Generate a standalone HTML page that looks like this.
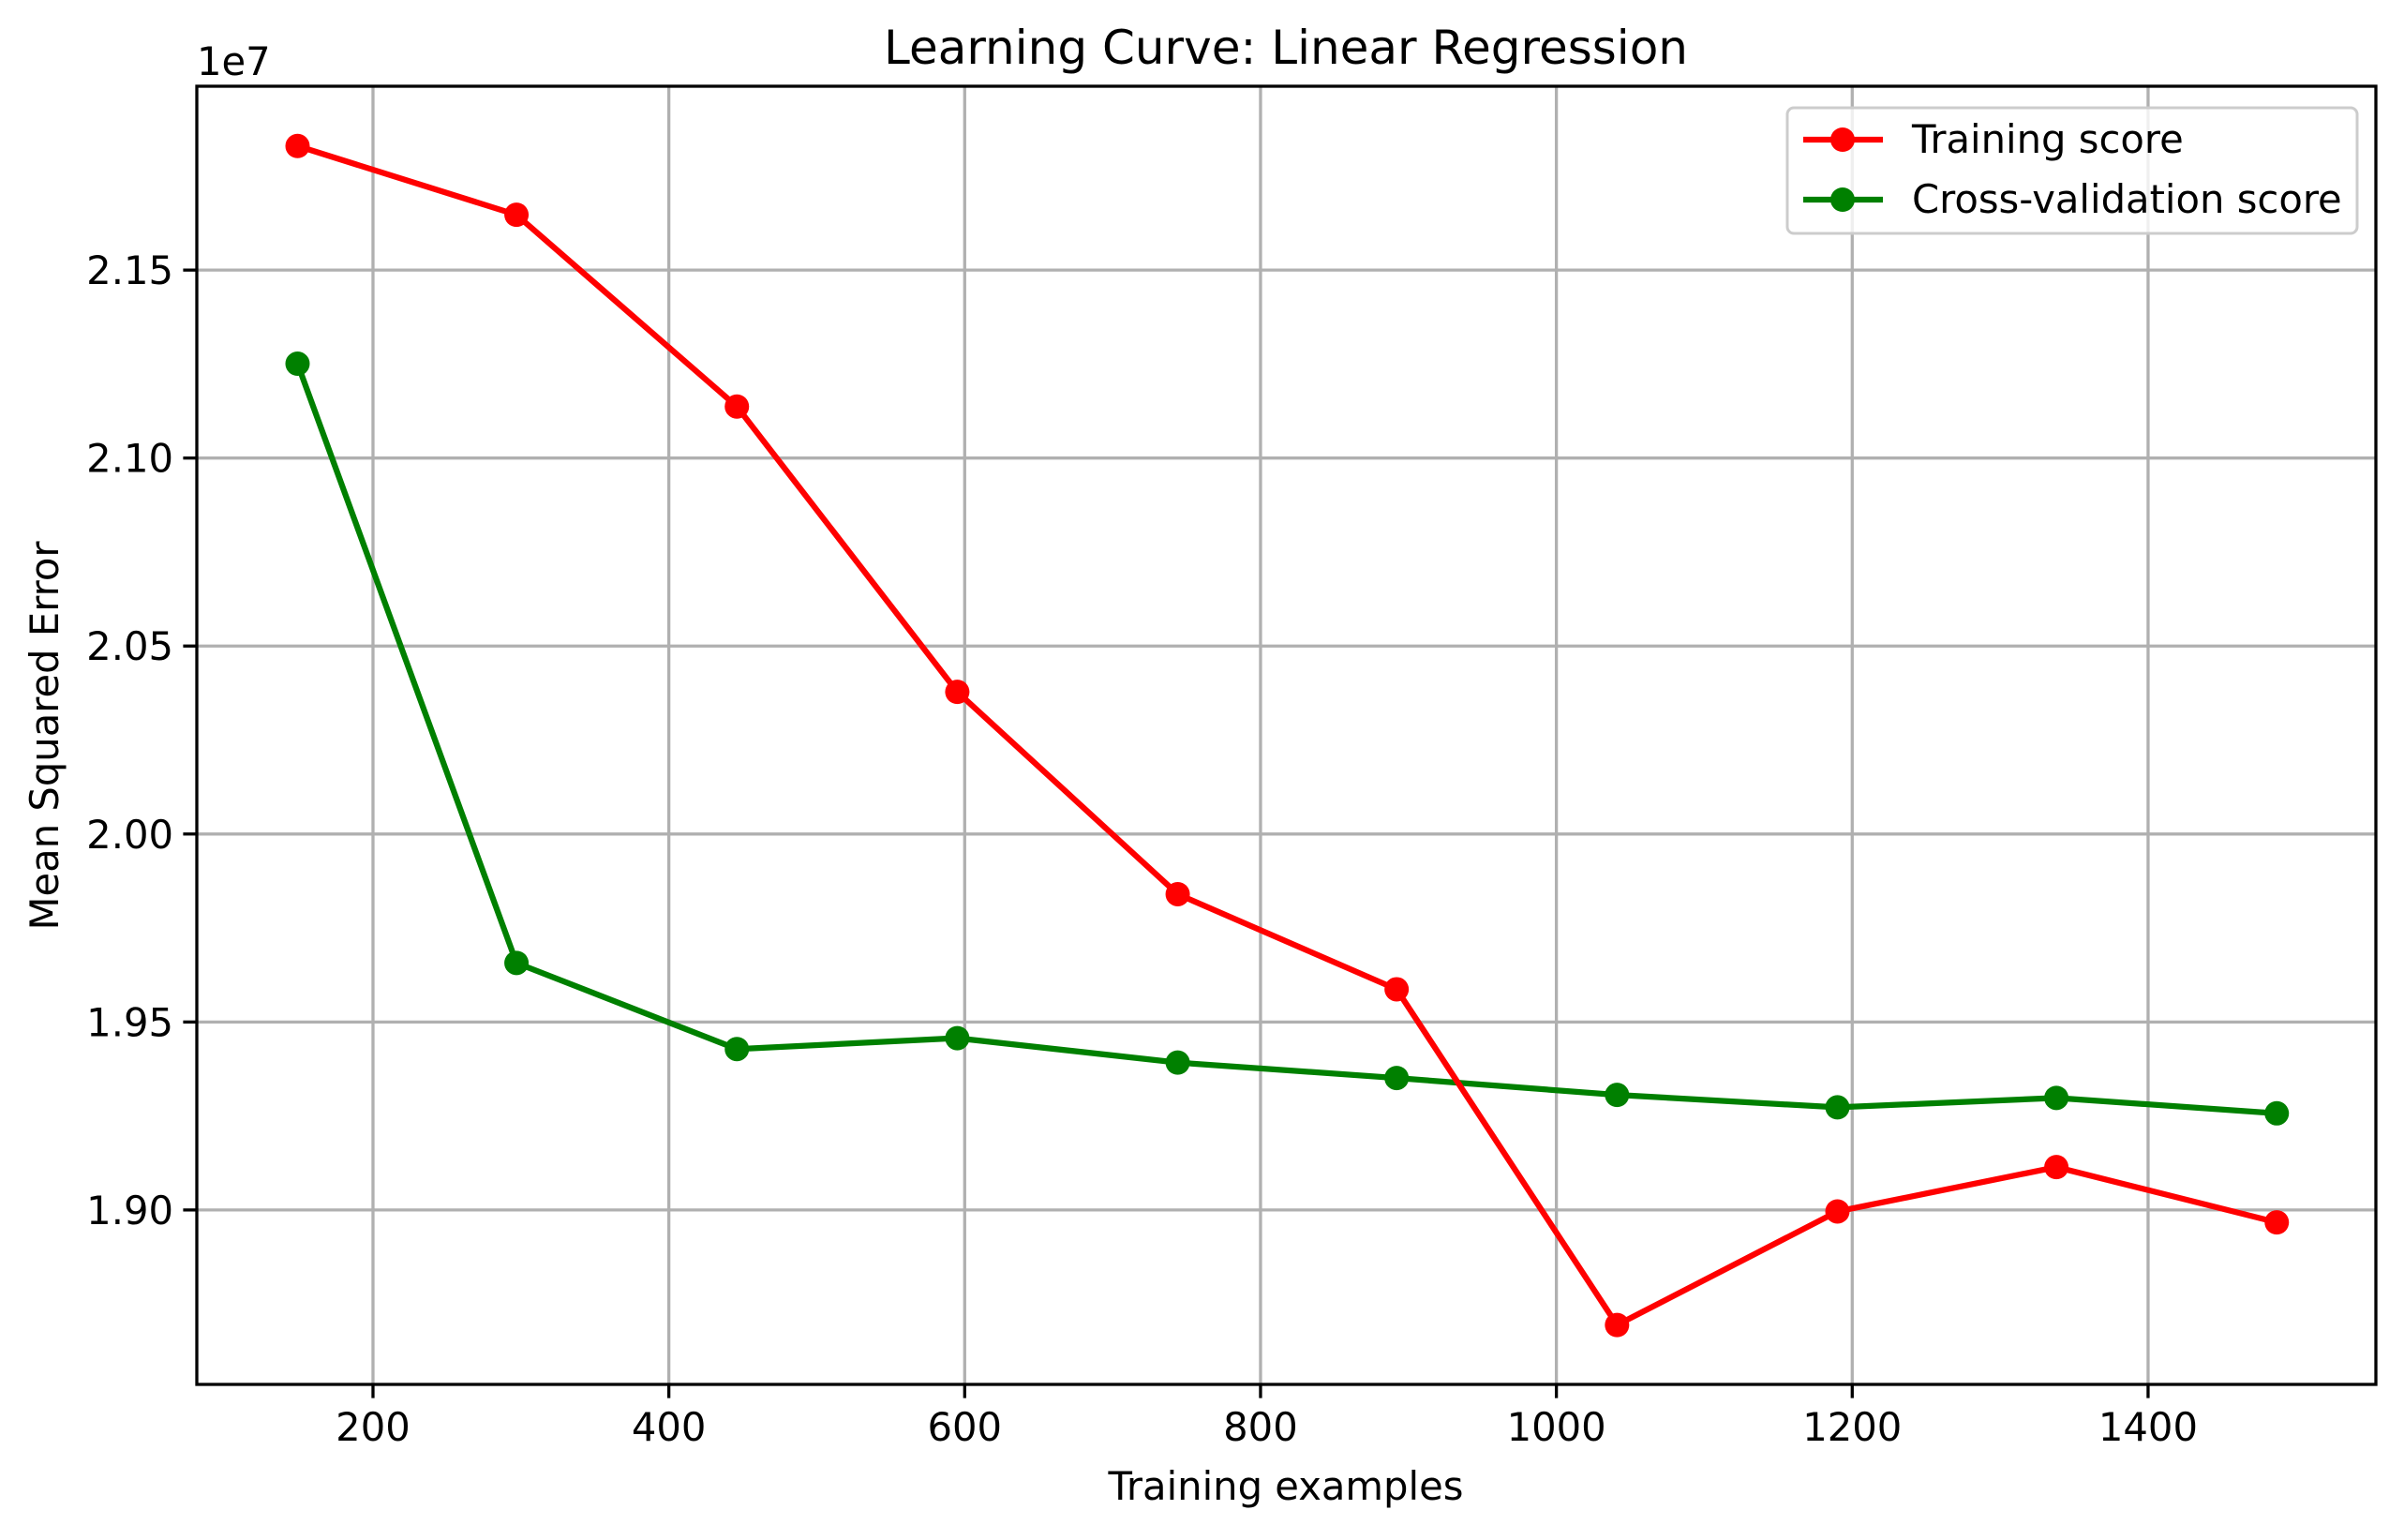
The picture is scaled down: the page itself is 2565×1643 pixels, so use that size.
<!DOCTYPE html>
<html><head><meta charset="utf-8"><style>
html,body{margin:0;padding:0;background:#fff;}
svg text{font-family:"DejaVu Sans","Liberation Sans",sans-serif;fill:#000;}
</style></head><body>
<svg width="2565" height="1638" viewBox="0 0 2565 1638" xmlns="http://www.w3.org/2000/svg">
<rect width="2565" height="1638" fill="#fff"/>
<g id="grid"></g>
<g id="series"></g>
<rect x="210" y="92" width="2325" height="1385" fill="none" stroke="#000" stroke-width="3.3"/>
<g id="ticks"></g>
<text x="1372" y="68" font-size="50" text-anchor="middle">Learning Curve: Linear Regression</text>
<text x="1372" y="1600" font-size="41.7" text-anchor="middle">Training examples</text>
<text transform="translate(62,785) rotate(-90)" font-size="41.7" text-anchor="middle">Mean Squared Error</text>
<text x="210" y="80" font-size="41.7">1e7</text>
<g>
<rect x="1907" y="115" width="608" height="134" rx="7" fill="#fff" fill-opacity="0.8" stroke="#ccc" stroke-width="3"/>
<g>
<line x1="1924" y1="149" x2="2009" y2="149" stroke="#ff0000" stroke-width="6.25"/>
<circle cx="1966" cy="149" r="13" fill="#ff0000"/>
<text x="2040" y="163" font-size="41.7">Training score</text></g>
<g>
<line x1="1924" y1="213" x2="2009" y2="213" stroke="#008000" stroke-width="6.25"/>
<circle cx="1966" cy="213" r="13" fill="#008000"/>
<text x="2040" y="227" font-size="41.7">Cross-validation score</text></g>
</g>
</svg>
<script>
const trainSizes=[149,297,446,595,744,892,1041,1190,1338,1487];
const trainScores=[2.1830,2.1647,2.1137,2.0378,1.9840,1.9587,1.8694,1.8996,1.9114,1.8967];
const cvScores=[2.1251,1.9657,1.9428,1.9457,1.9392,1.9351,1.9306,1.9273,1.9298,1.9257];
const xTicks=[200,400,600,800,1000,1200,1400];
const yTicks=[1.90,1.95,2.00,2.05,2.10,2.15];
const yTickLabels=["1.90","1.95","2.00","2.05","2.10","2.15"];

const NS="http://www.w3.org/2000/svg";
const L=210,R=2535,T=92,B=1477;
const xMin=80.9,xMax=1554,yMin=1.8536,yMax=2.1989;
function sx(v){return L+(v-xMin)/(xMax-xMin)*(R-L);}
function sy(v){return B-(v-yMin)/(yMax-yMin)*(B-T);}
function mk(tag,attrs,parent){const e=document.createElementNS(NS,tag);for(const k in attrs)e.setAttribute(k,attrs[k]);parent.appendChild(e);return e;}
const grid=document.getElementById('grid'),ticks=document.getElementById('ticks'),series=document.getElementById('series');
xTicks.forEach(v=>{
 const x=sx(v);
 const g=mk('line',{x1:x,x2:x,y1:T,y2:B,stroke:'#b0b0b0','stroke-width':3.3},grid);
 
 
 const t=mk('line',{x1:x,x2:x,y1:B,y2:B+14.6,stroke:'#000','stroke-width':3.3},ticks);
 
 
 const l=mk('text',{x:x,y:B+60,'font-size':41.7,'text-anchor':'middle'},ticks);
 l.textContent=v;
 
 
});
yTicks.forEach((v,i)=>{
 const y=sy(v);
 const g=mk('line',{x1:L,x2:R,y1:y,y2:y,stroke:'#b0b0b0','stroke-width':3.3},grid);
 
 
 const t=mk('line',{x1:L-14.6,x2:L,y1:y,y2:y,stroke:'#000','stroke-width':3.3},ticks);
 
 
 const l=mk('text',{x:L-25,y:y+15,'font-size':41.7,'text-anchor':'end'},ticks);
 l.textContent=yTickLabels[i];
 
 
});
function drawSeries(vals,color,name){
 const pts=trainSizes.map((x,i)=>sx(x)+','+sy(vals[i])).join(' ');
 const pl=mk('polyline',{points:pts,fill:'none',stroke:color,'stroke-width':6.25,'stroke-linejoin':'round'},series);
 
 
 trainSizes.forEach((x,i)=>{
  const c=mk('circle',{cx:sx(x),cy:sy(vals[i]),r:13,fill:color},series);
  
  
 });
}
drawSeries(cvScores,'#008000','cv-score');
drawSeries(trainScores,'#ff0000','training-score');
</script>
</body></html>
